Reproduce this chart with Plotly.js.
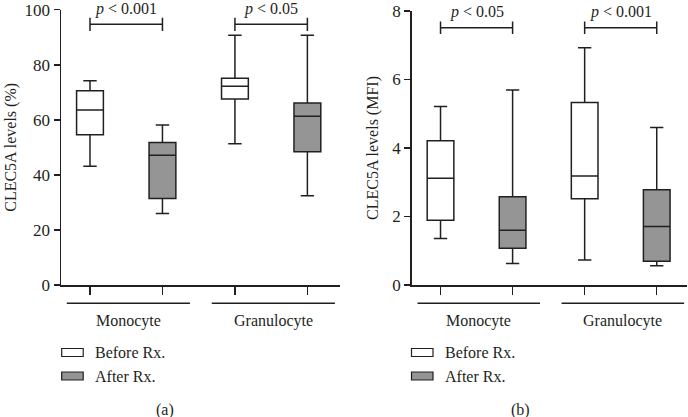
<!DOCTYPE html>
<html>
<head>
<meta charset="utf-8">
<script src="https://cdn.plot.ly/plotly-3.0.1.min.js"></script>
<style>html,body{margin:0;padding:0;background:#fff;}#chart{width:688px;height:417px;}</style>
</head>
<body>
<div id="chart"></div>
<script>
// ---- data ----
var categories = ['Monocyte', 'Granulocyte'];
var seriesNames = ['Before Rx.', 'After Rx.'];

// Panel (a): CLEC5A levels (%)
var beforeA_lower  = [43.1, 51.3];
var beforeA_q1     = [54.6, 67.6];
var beforeA_median = [63.6, 72.2];
var beforeA_q3     = [70.6, 75.1];
var beforeA_upper  = [74.2, 90.7];

var afterA_lower  = [26.0, 32.4];
var afterA_q1     = [31.4, 48.4];
var afterA_median = [47.1, 61.3];
var afterA_q3     = [51.8, 66.1];
var afterA_upper  = [58.1, 90.7];

// Panel (b): CLEC5A levels (MFI)
var beforeB_lower  = [1.36, 0.73];
var beforeB_q1     = [1.89, 2.52];
var beforeB_median = [3.12, 3.18];
var beforeB_q3     = [4.21, 5.33];
var beforeB_upper  = [5.21, 6.93];

var afterB_lower  = [0.63, 0.56];
var afterB_q1     = [1.07, 0.69];
var afterB_median = [1.60, 1.71];
var afterB_q3     = [2.58, 2.78];
var afterB_upper  = [5.69, 4.60];

var pLabelsA = ['p < 0.001', 'p < 0.05'];
var pLabelsB = ['p < 0.05', 'p < 0.001'];
var bracketA = 94.7;
var bracketB = 7.51;

var yTicksA = [0, 20, 40, 60, 80, 100];
var yTicksB = [0, 2, 4, 6, 8];

// ---- styling ----
var FONT = 'Liberation Serif, Times New Roman, serif';
var TXT = '#231f20';
var LINE = '#231f20';
var FILL_BEFORE = '#ffffff';
var FILL_AFTER = '#959595';
var BOXW = 0.37;

var posBefore = categories.map(function (c, i) { return 2 * i; });
var posAfter  = categories.map(function (c, i) { return 2 * i + 1; });

function boxTrace(name, pos, lower, q1, med, q3, upper, fill, xa, ya) {
  return {
    type: 'box', name: name, x: pos,
    lowerfence: lower, q1: q1, median: med, q3: q3, upperfence: upper,
    width: BOXW, whiskerwidth: 0.5, boxpoints: false,
    fillcolor: fill, line: {color: LINE, width: 1.5},
    xaxis: xa, yaxis: ya, showlegend: false, hoverinfo: 'skip'
  };
}

var traces = [
  boxTrace(seriesNames[0], posBefore, beforeA_lower, beforeA_q1, beforeA_median, beforeA_q3, beforeA_upper, FILL_BEFORE, 'x', 'y'),
  boxTrace(seriesNames[1], posAfter, afterA_lower, afterA_q1, afterA_median, afterA_q3, afterA_upper, FILL_AFTER, 'x', 'y'),
  boxTrace(seriesNames[0], posBefore, beforeB_lower, beforeB_q1, beforeB_median, beforeB_q3, beforeB_upper, FILL_BEFORE, 'x2', 'y2'),
  boxTrace(seriesNames[1], posAfter, afterB_lower, afterB_q1, afterB_median, afterB_q3, afterB_upper, FILL_AFTER, 'x2', 'y2')
];

var W = 688, H = 417;
function px(x) { return x / W; }
function py(y) { return (H - y) / H; }

function xAxis(domain, range, anchor) {
  return {
    domain: domain, range: range, anchor: anchor,
    tickvals: [0, 1, 2, 3], ticktext: ['', '', '', ''],
    ticks: 'outside', ticklen: 8, tickwidth: 1.5, tickcolor: LINE,
    showline: true, linecolor: LINE, linewidth: 1.5,
    showgrid: false, zeroline: false, fixedrange: true
  };
}
function yAxis(domain, range, tickvals, title, standoff, anchor) {
  return {
    domain: domain, range: range, anchor: anchor,
    tickvals: tickvals, ticks: 'outside', ticklen: 6, tickwidth: 1.5, tickcolor: LINE,
    showline: true, linecolor: LINE, linewidth: 1.5,
    showgrid: false, zeroline: false, fixedrange: true,
    tickfont: {family: FONT, size: 17, color: TXT},
    title: {text: title, font: {family: FONT, size: 16, color: TXT}, standoff: standoff}
  };
}

var shapes = [];
var annotations = [];

function addPanelDecor(xref, yref, bracketY, pLabels, pShift, legendX, legendTextX, capX, capText) {
  categories.forEach(function (c, i) {
    var a = posBefore[i], b = posAfter[i];
    var tickH = (yref === 'y') ? 2.4 : 0.185;
    // significance bracket
    shapes.push({type: 'line', xref: xref, yref: yref, x0: a, x1: b, y0: bracketY, y1: bracketY, line: {color: LINE, width: 1.5}});
    shapes.push({type: 'line', xref: xref, yref: yref, x0: a, x1: a, y0: bracketY - tickH, y1: bracketY + tickH, line: {color: LINE, width: 1.5}});
    shapes.push({type: 'line', xref: xref, yref: yref, x0: b, x1: b, y0: bracketY - tickH, y1: bracketY + tickH, line: {color: LINE, width: 1.5}});
    var parts = pLabels[i].split(' ');
    annotations.push({
      xref: xref, yref: yref, x: (a + b) / 2, y: bracketY, yshift: pShift,
      text: '<i>' + parts[0] + '</i> &lt; ' + parts[2], showarrow: false,
      xanchor: 'center', yanchor: 'middle', borderpad: 0,
      font: {family: FONT, size: 16, color: TXT}
    });
    // group underline & label
    shapes.push({type: 'line', xref: xref, yref: 'paper', x0: a - 0.32, x1: b + 0.38, y0: py(303.3), y1: py(303.3), line: {color: LINE, width: 1.5}});
    annotations.push({
      xref: xref, yref: 'paper', x: (a + b) / 2 + 0.03, y: py(321), text: c, showarrow: false,
      xanchor: 'center', yanchor: 'middle', font: {family: FONT, size: 16, color: TXT}
    });
  });
  // legend
  var fills = [FILL_BEFORE, FILL_AFTER];
  var ly = [352.5, 376];
  seriesNames.forEach(function (n, i) {
    shapes.push({type: 'rect', xref: 'paper', yref: 'paper',
      x0: px(legendX), x1: px(legendX + 21.5), y0: py(ly[i] - 4), y1: py(ly[i] + 4),
      fillcolor: fills[i], line: {color: LINE, width: 1.2}});
    annotations.push({xref: 'paper', yref: 'paper', x: px(legendTextX), y: py(ly[i]), text: n,
      showarrow: false, xanchor: 'left', yanchor: 'middle', font: {family: FONT, size: 16, color: TXT}});
  });
  annotations.push({xref: 'paper', yref: 'paper', x: px(capX), y: py(410), text: capText,
    showarrow: false, xanchor: 'center', yanchor: 'middle', font: {family: FONT, size: 16, color: TXT}});
}

addPanelDecor('x', 'y', bracketA, pLabelsA, 15, 61.7, 93, 165, '(a)');
addPanelDecor('x2', 'y2', bracketB, pLabelsB, 16, 411.5, 443, 520, '(b)');

var layout = {
  width: W, height: H,
  margin: {l: 0, r: 0, t: 0, b: 0},
  paper_bgcolor: '#ffffff', plot_bgcolor: '#ffffff',
  showlegend: false,
  font: {family: FONT, size: 16, color: TXT},
  xaxis: xAxis([px(61), px(340)], [-0.4, 3.45], 'y'),
  yaxis: yAxis([py(285), py(9.7)], [0, 100], yTicksA, 'CLEC5A levels (%)', 4, 'x'),
  xaxis2: xAxis([px(411.7), px(687)], [-0.4, 3.42], 'y2'),
  yaxis2: yAxis([py(285), py(11)], [0, 8], yTicksB, 'CLEC5A levels (MFI)', 9, 'x2'),
  shapes: shapes,
  annotations: annotations
};

Plotly.newPlot('chart', traces, layout, {displayModeBar: false, staticPlot: true});
</script>
</body>
</html>
